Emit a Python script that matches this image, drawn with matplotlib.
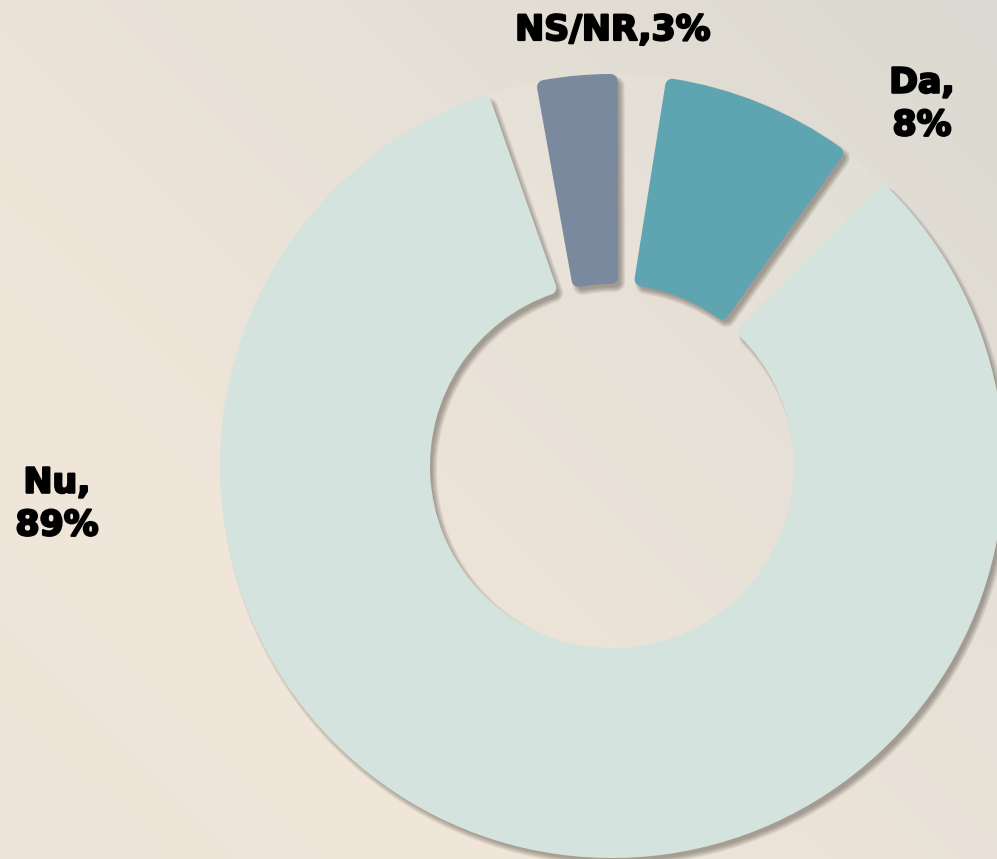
import numpy as np
import matplotlib
matplotlib.use("Agg")
import matplotlib.pyplot as plt
from matplotlib.patches import Wedge
from matplotlib.colors import LinearSegmentedColormap
from matplotlib.transforms import ScaledTranslation
import matplotlib.patheffects as pe

# ---- data ----
categories = ["Da", "Nu", "NS/NR"]
values = [8, 89, 3]
colors = ["#5ea4b1", "#d4e3dd", "#7b899f"]
label_texts = ["Da,\n8%", "Nu,\n89%", "NS/NR,3%"]

# ---- layout ----
W, H, DPI = 997, 859, 100
fig = plt.figure(figsize=(W / DPI, H / DPI), dpi=DPI)
ax = fig.add_axes([0, 0, 1, 1])
cx, cy, Rpx = 612, 466, 392          # donut centre / radius in pixels
x0, x1 = -cx / Rpx, (W - cx) / Rpx
y0, y1 = -(H - cy) / Rpx, cy / Rpx
ax.set_xlim(x0, x1)
ax.set_ylim(y0, y1)
ax.axis("off")

# background gradient (top-right grey -> bottom-left warm)
nx, ny = 240, 210
X, Y = np.meshgrid(np.linspace(0, 1, nx), np.linspace(0, 1, ny))
t = ((1 - X) * W + Y * H) / (W + H)
bg_cmap = LinearSegmentedColormap.from_list(
    "bg", [(0.0, "#dbd9d1"), (0.35, "#e6e0d6"), (0.75, "#f1e6da"), (1.0, "#ebe3d8")])
ax.imshow(t, cmap=bg_cmap, extent=(x0, x1, y0, y1), origin="upper",
          aspect="auto", zorder=0, interpolation="bilinear", vmin=0, vmax=1)

R_out = 1.0
R_in = 182 / Rpx
corner = 7 / Rpx                      # rounded-corner radius (data units)
corner_lw = 2 * 7 * 72 / DPI          # stroke width in points
gap_deg = 9.2
start_deg = 9.0                       # clockwise from 12 o'clock

# faint ring behind slices
ax.add_patch(Wedge((0, 0), R_out, 0, 360, width=R_out - R_in,
                   facecolor="white", alpha=0.09, edgecolor="none", zorder=1))

total = 360 - len(values) * gap_deg
vals = np.array(values, dtype=float)
spans = vals / vals.sum() * total

shadow_tr = ax.transData + ScaledTranslation(4 / DPI, -5 / DPI, fig.dpi_scale_trans)

a = start_deg
for val, span, col in zip(values, spans, colors):
    a1, a2 = a, a + span
    th1, th2 = 90 - a2, 90 - a1
    r_o = R_out - corner
    w = (R_out - corner) - (R_in + corner)
    # blurred shadow made of stacked translucent strokes
    for b in range(-2, 4):
        ax.add_patch(Wedge((0, 0), r_o, th1, th2, width=w,
                           facecolor="none", edgecolor="#2e261c",
                           linewidth=corner_lw + 2 * b * 72 / DPI,
                           joinstyle="round", alpha=0.07,
                           transform=shadow_tr, zorder=2))
    ax.add_patch(Wedge((0, 0), r_o, th1, th2, width=w,
                       facecolor=col, edgecolor=col, linewidth=corner_lw,
                       joinstyle="round", zorder=3))
    a = a2 + gap_deg

# ---- labels ----
label_pos = {"NS/NR": (613, 30), "Da": (922, 104), "Nu": (57, 504)}
for cat, txt in zip(categories, label_texts):
    px, py = label_pos[cat]
    fig.text(px / W, 1 - py / H, txt, ha="center", va="center",
             multialignment="center", fontsize=25, fontweight="bold",
             color="black", linespacing=1.32, family="DejaVu Sans",
             path_effects=[pe.withStroke(linewidth=1.6, foreground="black")])

fig.savefig("out.png", dpi=DPI)
